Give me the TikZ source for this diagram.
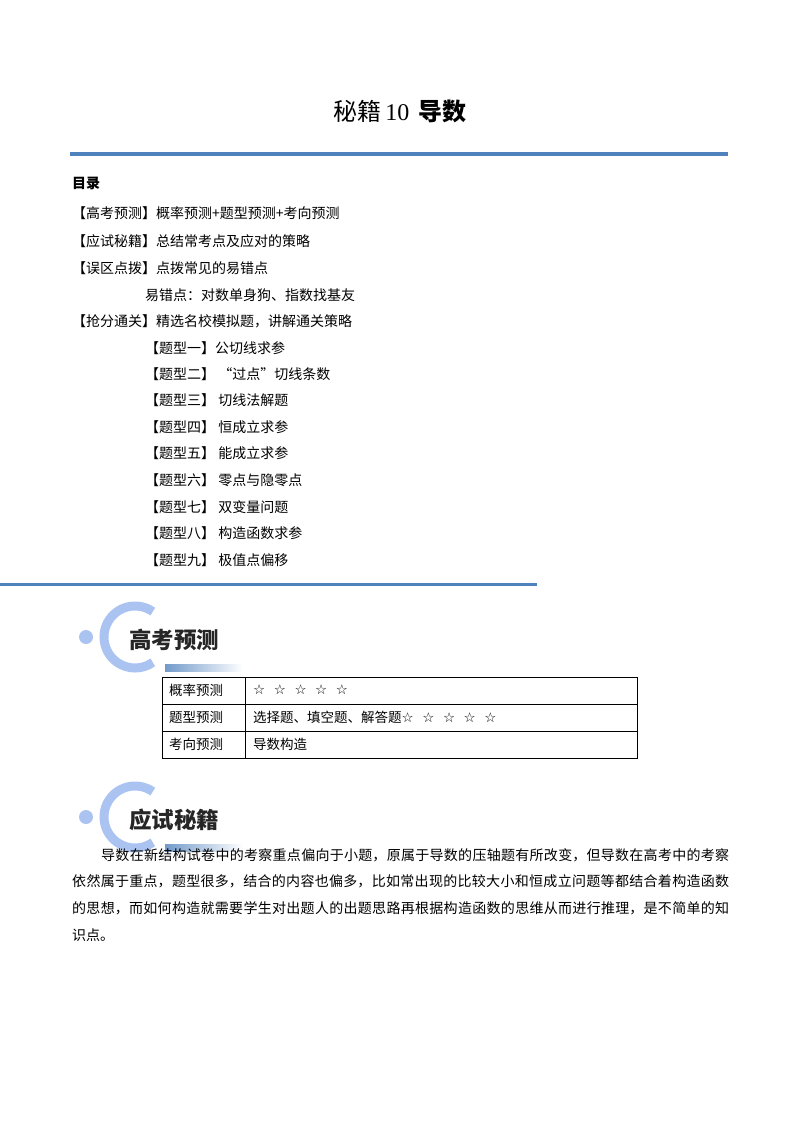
\documentclass[tikz,border=0pt]{standalone}
\usepackage{fontspec}
\setmainfont{Noto Sans CJK SC}
\newfontfamily\latinserif{Liberation Serif}
\newfontfamily\symfont{DejaVu Sans}
\XeTeXlinebreaklocale "zh"
\XeTeXlinebreakskip=0pt plus 1pt
\usetikzlibrary{calc}
\definecolor{lineblue}{RGB}{79,129,189}
\definecolor{arcblue}{RGB}{170,195,240}
\tikzset{
  txt/.style={anchor=west,inner sep=0pt,font=\fontsize{14}{14}\selectfont},
  cell/.style={anchor=west,inner sep=0pt,font=\fontsize{13.5}{14}\selectfont},
}
\newcommand{\starrow}[1]{{\symfont\fontsize{13.5}{14}\selectfont #1}}
\begin{document}
\begin{tikzpicture}[x=1pt,y=-1pt]
\useasboundingbox (0,0) rectangle (800,1132);
\node[inner sep=0pt,font=\fontsize{24}{24}\selectfont] (title) at (400,111) {秘籍\,{\latinserif 10}\, \textbf{导数}};
\draw[lineblue,line width=3.5pt] (70,154) -- (728,154);
\node[txt,font=\fontsize{14}{14}\selectfont\bfseries] (ml) at (72,183) {目录};
\node[txt] (a1) at (72,213) {【高考预测】概率预测+题型预测+考向预测};
\node[txt] (a2) at (72,241) {【应试秘籍】总结常考点及应对的策略};
\node[txt] (a3) at (72,268) {【误区点拨】点拨常见的易错点};
\node[txt] (a4) at (145,295) {易错点：对数单身狗、指数找基友};
\node[txt] (a5) at (72,321) {【抢分通关】精选名校模拟题，讲解通关策略};
\foreach \y/\t [count=\i] in {348/{【题型一】公切线求参},374/{【题型二】 “过点”切线条数},400/{【题型三】 切线法解题},427/{【题型四】 恒成立求参},453/{【题型五】 能成立求参},480/{【题型六】 零点与隐零点},507/{【题型七】 双变量问题},533/{【题型八】 构造函数求参},560/{【题型九】 极值点偏移}}
  \node[txt] (t\i) at (145,\y) {\t};
\draw[lineblue,line width=3pt] (0,584) -- (537,584);
% banners
\foreach \dy/\lab/\nm in {0/高考预测/b1,180/应试秘籍/b2}{
  \draw[arcblue,line width=9pt] ($(135,637+\dy)+(-55:31)$) arc[start angle=-55,end angle=-305,radius=31];
  \fill[arcblue] (86,637+\dy) circle (7);
  \shade[left color=lineblue!80,right color=white] (165,664+\dy) rectangle (243,671+\dy);
  \node[inner sep=0pt,font=\fontsize{22.5}{22.5}\selectfont\bfseries,text=black!85] (\nm) at (174,640+\dy) {\lab};
}
% table
\draw[black,line width=0.6pt] (162,677) rectangle (637,758);
\draw[black,line width=0.6pt] (162,704) -- (637,704) (162,731) -- (637,731) (245,677) -- (245,758);
\node[cell] (c1) at (169,690) {概率预测};
\node[cell] (c2) at (169,717) {题型预测};
\node[cell] (c3) at (169,744) {考向预测};
\node[cell] (d1) at (253,690) {\starrow{☆\ \ ☆\ \ ☆\ \ ☆\ \ ☆}};
\node[cell] (d2) at (253,717) {选择题、填空题、解答题\starrow{☆\ \ ☆\ \ ☆\ \ ☆\ \ ☆}};
\node[cell] (d3) at (253,744) {导数构造};
% paragraph
\node[anchor=north west,inner sep=0pt,text width=657pt,align=justify,font=\fontsize{14}{26.7}\selectfont] (para) at (72,848) {\hspace*{29pt}导数在新结构试卷中的考察重点偏向于小题，原属于导数的压轴题有所改变，但导数在高考中的考察\linebreak 依然属于重点，题型很多，结合的内容也偏多，比如常出现的比较大小和恒成立问题等都结合着构造函数\linebreak 的思想，而如何构造就需要学生对出题人的出题思路再根据构造函数的思维从而进行推理，是不简单的知\linebreak 识点。};
\end{tikzpicture}
\end{document}
